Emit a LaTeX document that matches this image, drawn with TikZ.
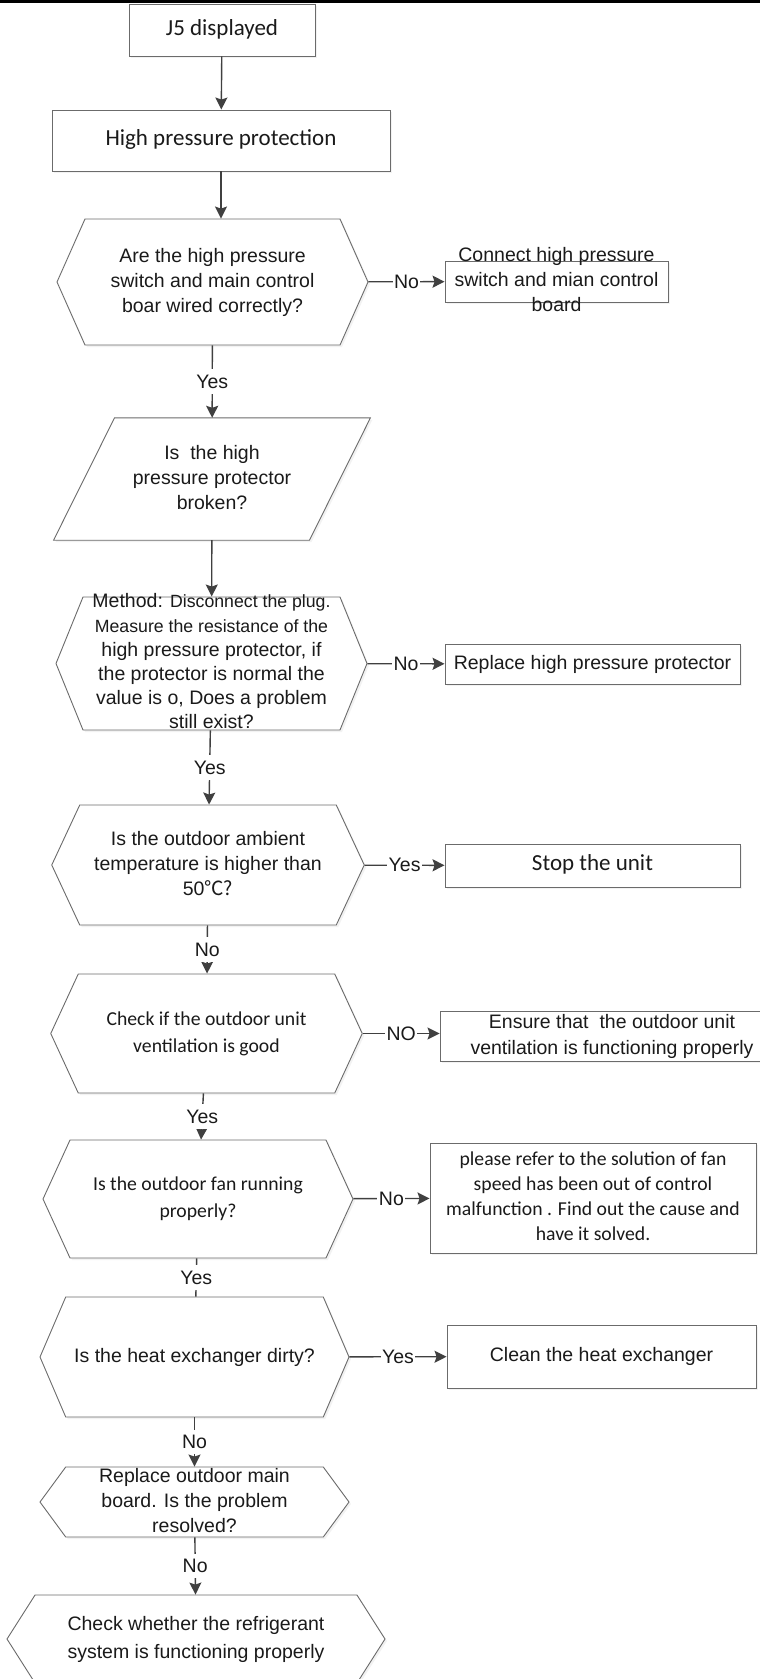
\documentclass[tikz,border=0pt]{standalone}
\usepackage{fontspec}
\setmainfont{Liberation Sans}
\newfontfamily\calibri{Carlito}
\newfontfamily\cjk{Noto Sans CJK SC}
\usetikzlibrary{arrows.meta, shapes.symbols, shadows}
\definecolor{outline}{HTML}{6B6B6B}
\definecolor{edge}{HTML}{404040}
\definecolor{txt}{HTML}{1A1A1A}
\definecolor{shade}{HTML}{E6E6E6}
\newcommand{\arl}{\fontsize{19.5}{25}\selectfont}
\newcommand{\armid}{\fontsize{19.5}{24.2}\selectfont}
\newcommand{\arsm}{\fontsize{17.7}{24.2}\selectfont}
\newcommand{\cbig}{\calibri\fontsize{23}{27}\selectfont}
\newcommand{\csm}{\calibri\fontsize{19.7}{27}\selectfont}
% text block of zero size, centred on the node
\newcommand{\lines}[1]{\vbox to 0pt{\vss\hbox to 0pt{\hss\begin{tabular}{@{}c@{}}#1\end{tabular}\hss}\vss}}
\pgfdeclarelayer{bg}
\pgfsetlayers{bg,main}
\tikzset{
  look/.style={draw=outline, line width=0.9pt, fill=white,
    drop shadow={shadow xshift=2pt, shadow yshift=-2pt, fill=shade}},
  shp/.style={look, inner sep=0pt, text=txt, font=\arl},
  blk/.style 2 args={shp, rectangle, minimum width=#1pt, minimum height=#2pt},
  hex/.style n args={3}{shp, signal, signal to=west and east, signal from=nowhere,
    minimum width=#1pt, minimum height=#2pt, signal pointer angle=#3},
  slab/.style 2 args={rectangle, inner sep=0pt, text=txt, font=\arl, minimum width=#1pt, minimum height=#2pt},
  e/.style={draw=edge, line width=1.4pt, -{Stealth[length=12pt, width=12pt, inset=2pt]}},
  lbl/.style={fill=white, text=txt, font=\arl, inner xsep=1.5pt, inner ysep=5.5pt},
}

\begin{document}
\begin{tikzpicture}[x=1pt, y=-1pt]
\useasboundingbox (0,0) rectangle (760,1679);
\fill[black] (0,0) rectangle (760,3);

% ---------------- main column ----------------
\node[blk={186}{52}, font=\cbig] (j5) at (222,30) {\lines{J5 displayed}};
\node[blk={338}{61}, font=\cbig] (hpp) at (221,140.5) {\lines{High pressure protection}};
\node[hex={311}{126}{132.1}] (wire) at (212.5,282)
  {\lines{Are the high pressure\\switch and main control\\boar wired correctly?}};
\node[slab={255.5}{122}] (broken) at (212,479) {\lines{Is~ the high\\pressure protector\\broken?}};
\begin{pgfonlayer}{bg}
  % parallelogram round the node
  \filldraw[look] ([xshift=30.5pt]broken.north west) -- ([xshift=30.5pt]broken.north east)
    -- ([xshift=-30.5pt]broken.south east) -- ([xshift=-30.5pt]broken.south west) -- cycle;
\end{pgfonlayer}
\node[hex={311}{133}{135.8}, font=\armid] (method) at (211.5,663.5)
  {\lines{Method: {\arsm Disconnect the plug.}\\{\arsm Measure the resistance of the}\\high pressure protector, if\\the protector is normal the\\value is o, Does a problem\\still exist?}};
\node[hex={312.5}{120}{130}] (ambient) at (208,865)
  {\lines{Is the outdoor ambient\\temperature is higher than\\50{\cjk ℃?}}};
\node[hex={311.5}{119}{130.4}, font=\csm] (vent) at (206.5,1033.5)
  {\lines{Check if the outdoor unit\\ventilation is good}};
\node[hex={310}{118}{130.8}, font=\csm] (fan) at (198,1199)
  {\lines{Is the outdoor fan running\\properly?}};
\node[hex={309}{120}{133.6}] (dirty) at (194.5,1357) {\lines{Is the heat exchanger dirty?}};
\node[hex={309}{70}{107.4}] (board) at (194.5,1502)
  {\lines{Replace outdoor main\\board. Is the problem\\resolved?}};
\node[hex={378}{88}{115}, font=\fontsize{19.5}{28}\selectfont] (refrig) at (196,1639)
  {\lines{Check whether the refrigerant\\system is functioning properly}};

% ---------------- actions on the right ----------------
\node[blk={223}{41}] (reconnect) at (556.5,281.5)
  {\lines{Connect high pressure\\switch and mian control\\board}};
\node[blk={295}{40}] (newhp) at (592.5,664) {\lines{Replace high pressure protector}};
\node[blk={295}{43}, font=\cbig] (stop) at (592.5,865.5) {\lines{Stop the unit}};
\node[blk={344}{50}, font=\fontsize{19.5}{26}\selectfont] (airflow) at (612,1036)
  {\lines{Ensure that~ the outdoor unit\\ventilation is functioning properly}};
\node[blk={326}{110}, font=\calibri\fontsize{19.7}{24.7}\selectfont] (fanfix) at (593,1198)
  {\lines{please refer to the solution of fan\\speed has been out of control\\malfunction . Find out the cause and\\have it solved.}};
\node[blk={309}{63}] (clean) at (601.5,1356.5) {\lines{Clean the heat exchanger}};

% ---------------- connectors ----------------
\draw[e] (j5) -- (hpp);
\draw[e] (hpp) -- (hpp |- wire.north);
\draw[e] (wire) -- node[lbl] {No} (reconnect);
\draw[e] (wire) -- node[lbl] {Yes} (broken);
\draw[e] (broken) -- (method);
\draw[e] (method) -- node[lbl] {No} (newhp);
\draw[e] (method) -- node[lbl] {Yes} (ambient);
\draw[e] (ambient) -- node[lbl] {Yes} (stop);
\draw[e] (ambient) -- node[lbl] {No} (vent);
\draw[e] (vent.east) -- node[lbl] {NO} (vent.east -| airflow.west);
\draw[e] (vent) -- node[lbl] {Yes} (fan);
\draw[e] (fan) -- node[lbl] {No} (fanfix);
\draw[e, -] (fan) -- node[lbl] {Yes} (dirty);
\draw[e] (dirty) -- node[lbl] {Yes} (clean);
\draw[e] (dirty) -- node[lbl] {No} (board);
\draw[e] (board) -- node[lbl] {No} (refrig);
\end{tikzpicture}
\end{document}
